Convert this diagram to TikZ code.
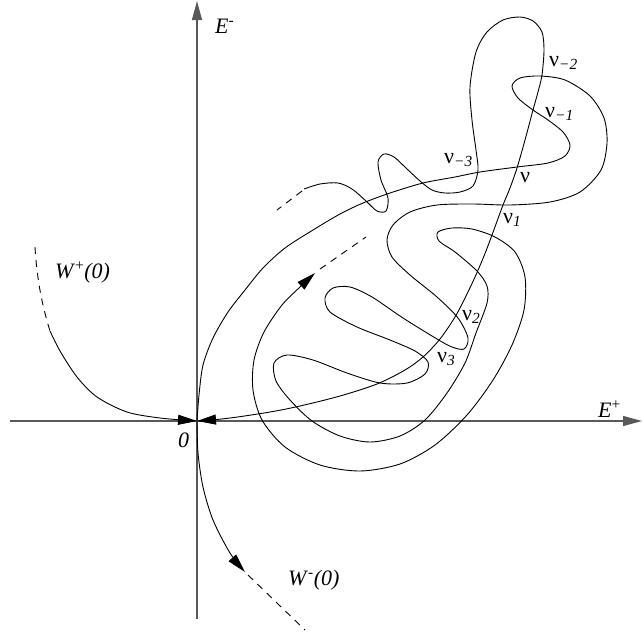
\documentclass[tikz,border=0pt]{standalone}
\usepackage{fontspec}
\setmainfont{Liberation Serif}
\usetikzlibrary{arrows.meta}
\tikzstyle{axis}=[draw=black!65, line width=1.2pt]
\tikzstyle{manifold}=[black, line width=0.9pt]
\tikzstyle{tail}=[manifold, dash pattern=on 7pt off 6pt]
\tikzstyle{headed}=[-{Triangle[length=19pt,width=10pt]}]
\tikzstyle{lbl}=[inner sep=0pt, anchor=base west, font=\fontsize{22}{26}\selectfont]

\begin{document}
\begin{tikzpicture}[x=1pt,y=-1pt]
	\useasboundingbox (0,0) rectangle (642,633);
	\coordinate (O) at (197,421);
	\coordinate (xl) at (10,421);
	\coordinate (xr) at (642,421);
	\coordinate (yb) at (197,619);
	\coordinate (yt) at (197,1);
	% axes
	\draw[axis, headed] (xl) -- (xr);
	\draw[axis, headed] (yb) -- (yt);
	% W+(0), left branch
	\draw[tail] (35,247) .. controls (37,280) and (42,305) .. (50,331);
	\draw[manifold, headed] plot[smooth] coordinates {(50,331) (60,351) (77,377) (97,397) (127,412) (160,418) (O)};
	% W-(0), lower branch
	\draw[manifold, headed] plot[smooth] coordinates {(O) (198,453) (203,487) (213,520) (230,553) (245,572)};
	\draw[tail] (248,575) -- (305,630);
	% stable branch on the right
	\draw[manifold, {Triangle[length=19pt,width=10pt]}-] plot[smooth] coordinates {(O) (230,418) (270,412) (300,406) (340,396) (377,384) (405,370) (423,357) (440,339) (455,317) (465,298) (475,277) (484,256) (492,235) (503,205) (510,188) (517,168) (525,140) (533,110) (538,92) (542,75) (544,50) (542,32) (533,21) (520,17) (503,20) (487,32) (476,52) (470,87) (472,120) (476,150) (478,170) (473,186) (460,192) (445,193) (432,190) (420,181) (406,168) (394,157) (384,154) (378,162) (381,180) (388,198) (386,211) (377,211) (366,201) (352,189) (338,183) (320,184) (304,189)};
	\draw[tail] (302,191) -- (277,210);
	% unstable branch on the right
	\draw[manifold, headed] plot[smooth] coordinates {(O) (199,395) (203,365) (213,338) (228,312) (245,290) (263,268) (285,248) (313,230) (340,214) (363,203) (390,193) (423,183) (455,177) (480,172) (517,167) (548,163) (565,156) (570,145) (563,132) (548,120) (533,110) (518,98) (512,86) (520,78) (540,76) (565,80) (590,96) (604,118) (607,143) (601,170) (580,192) (550,202) (510,205) (473,204) (437,205) (410,212) (393,225) (387,240) (392,257) (410,275) (437,297) (458,318) (468,338) (464,349) (452,347) (437,339) (403,318) (372,297) (350,287) (333,288) (325,298) (330,312) (357,327) (390,340) (415,351) (428,362) (425,374) (407,383) (380,383) (347,373) (313,360) (287,355) (274,363) (276,381) (290,400) (312,421) (340,436) (370,442) (400,436) (425,420) (447,393) (465,363) (476,333) (487,303) (487,286) (477,271) (455,252) (439,241) (438,232) (452,228) (472,229) (495,237) (515,252) (525,277) (524,310) (512,345) (493,380) (467,415) (435,445) (400,464) (360,471) (320,465) (285,447) (262,420) (253,390) (254,360) (264,332) (282,305) (300,287) (315,273)};
	\draw[tail] (320,269) -- (366,237);
	% labels
	\node[lbl] (Em) at (215,33) {\textit{E}\textsuperscript{-}};
	\node[lbl] (Ep) at (598,417) {\textit{E}\textsuperscript{+}};
	\node[lbl] (Wp) at (55,278) {\textit{W}\textsuperscript{+}\textit{(0)}};
	\node[lbl] (Wm) at (288,585) {\textit{W}\textsuperscript{-}\textit{(0)}};
	\node[lbl] (zero) at (178,447) {\textit{0}};
	\node[lbl] (nu) at (520,182) {ν};
	\node[lbl] (nu1) at (503,223) {ν\textsubscript{\textit{1}}};
	\node[lbl] (nu2) at (462,320) {ν\textsubscript{\textit{2}}};
	\node[lbl] (nu3) at (437,362) {ν\textsubscript{\textit{3}}};
	\node[lbl] (num1) at (545,117) {ν\textsubscript{\textit{−1}}};
	\node[lbl] (num2) at (549,66) {ν\textsubscript{\textit{−2}}};
	\node[lbl] (num3) at (444,163) {ν\textsubscript{\textit{−3}}};
\end{tikzpicture}
\end{document}
